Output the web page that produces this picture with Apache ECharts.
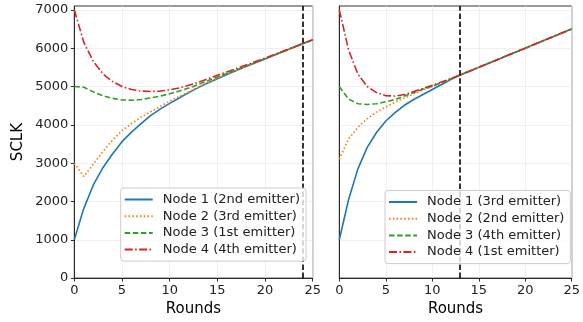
<!DOCTYPE html>
<html>
<head>
<meta charset="utf-8">
<script src="https://cdn.jsdelivr.net/npm/echarts@6/dist/echarts.min.js"></script>
<style>
  html, body { margin: 0; padding: 0; background: #fff; }
  #chart { width: 583px; height: 322px; }
</style>
</head>
<body>
<div id="chart"></div>
<script>
// rounds 0..25
const rounds = [0,1,2,3,4,5,6,7,8,9,10,11,12,13,14,15,16,17,18,19,20,21,22,23,24,25];

// left panel
const leftNames = ['Node 1 (2nd emitter)', 'Node 2 (3rd emitter)', 'Node 3 (1st emitter)', 'Node 4 (4th emitter)'];
const leftNode1 = [1000,1820,2430,2880,3240,3560,3810,4030,4240,4410,4560,4700,4840,4970,5090,5200,5310,5415,5520,5620,5720,5822,5921,6021,6120,6220];
const leftNode2 = [3000,2650,2980,3300,3600,3850,4030,4200,4340,4480,4620,4740,4860,4980,5100,5220,5325,5425,5525,5624,5723,5822,5921,6021,6120,6220];
const leftNode3 = [5000,4980,4860,4760,4690,4650,4640,4660,4700,4750,4810,4880,4960,5050,5150,5250,5340,5435,5530,5626,5724,5823,5922,6021,6120,6220];
const leftNode4 = [7000,6150,5650,5330,5130,5000,4920,4880,4870,4880,4910,4960,5030,5110,5200,5290,5380,5470,5560,5650,5740,5835,5930,6025,6120,6220];
const leftMark = 24;

// right panel
const rightNames = ['Node 1 (3rd emitter)', 'Node 2 (2nd emitter)', 'Node 3 (4th emitter)', 'Node 4 (1st emitter)'];
const rightNode1 = [1000,2050,2850,3410,3800,4100,4320,4510,4660,4790,4920,5050,5180,5300,5400,5500,5600,5700,5800,5900,6000,6100,6200,6300,6400,6500];
const rightNode2 = [3100,3630,3940,4160,4330,4460,4590,4700,4810,4910,5000,5100,5200,5300,5400,5500,5600,5700,5800,5900,6000,6100,6200,6300,6400,6500];
const rightNode3 = [5000,4670,4550,4530,4550,4600,4660,4750,4840,4925,5010,5100,5200,5300,5400,5500,5600,5700,5800,5900,6000,6100,6200,6300,6400,6500];
const rightNode4 = [7000,5950,5320,5000,4840,4760,4750,4790,4870,4950,5030,5115,5205,5300,5400,5500,5600,5700,5800,5900,6000,6100,6200,6300,6400,6500];
const rightMark = 13;

const yTop = 7100;
const colors = ['#1f77b4', '#ff7f0e', '#2ca02c', '#d62728'];
const dashes = ['solid', [1.6, 2.2], [5.5, 2.6], [8, 2.4, 1.6, 2.4]];
const font = 'DejaVu Sans';

var myChart = echarts.init(document.getElementById('chart'));

function pairs(vals) {
  return rounds.map((r, i) => [r, vals[i]]);
}

function makeSeries(names, sets, idx, mark) {
  const out = sets.map((vals, k) => ({
    name: names[k],
    type: 'line',
    xAxisIndex: idx,
    yAxisIndex: idx,
    data: pairs(vals),
    symbol: 'none',
    color: colors[k],
    lineStyle: { color: colors[k], width: 1.6, type: dashes[k] },
    z: 2 + k,
    animation: false
  }));
  // vertical marker
  out[out.length - 1].markLine = {
    silent: true,
    symbol: 'none',
    animation: false,
    label: { show: false },
    lineStyle: { color: '#000', width: 1.6, type: [5.5, 2.6] },
    data: [{ xAxis: mark }]
  };
  return out;
}

function xAx(idx) {
  return {
    type: 'value', gridIndex: idx, min: 0, max: 25, interval: 5,
    name: 'Rounds', nameLocation: 'middle', nameGap: 21,
    nameTextStyle: { fontFamily: font, fontSize: 15, color: '#000' },
    axisLine: { show: true, lineStyle: { color: '#000', width: 0.8 } },
    axisTick: { show: true, inside: false, length: 3.5, lineStyle: { color: '#000', width: 0.8 } },
    axisLabel: { fontFamily: font, fontSize: 13, color: '#222', margin: 6 },
    splitLine: { show: true, lineStyle: { color: '#ebebeb', width: 0.8 } }
  };
}

function yAx(idx, labels) {
  return {
    type: 'value', gridIndex: idx, min: 0, max: yTop, interval: 1000,
    name: labels ? 'SCLK' : '', nameLocation: 'middle', nameGap: 49,
    nameTextStyle: { fontFamily: font, fontSize: 15, color: '#000' },
    axisLine: { show: true, lineStyle: { color: '#000', width: 0.8 } },
    axisTick: { show: labels, inside: false, length: 3.5, lineStyle: { color: '#000', width: 0.8 } },
    axisLabel: { show: labels, fontFamily: font, fontSize: 13, color: '#222', margin: 6, showMaxLabel: false,
      formatter: v => String(v) },
    splitLine: { show: true, showMaxLine: false, lineStyle: { color: '#ebebeb', width: 0.8 } }
  };
}

function legend(names, left, top) {
  return {
    data: names,
    orient: 'vertical',
    left: left, top: top,
    itemWidth: 28, itemHeight: 14, itemGap: 3.7,
    padding: [5, 6, 5, 3],
    backgroundColor: 'rgba(255,255,255,0.8)',
    borderColor: '#cccccc', borderWidth: 1, borderRadius: 3,
    itemStyle: { opacity: 0 },
    textStyle: { fontFamily: font, fontSize: 13, color: '#222', padding: [0, 0, 0, 5] },
    z: 10
  };
}

myChart.setOption({
  animation: false,
  grid: [
    { left: 74.3, right: 270.3, top: 6, bottom: 42, show: true, borderColor: '#000', borderWidth: 0.8, backgroundColor: 'transparent' },
    { left: 339.3, right: 6.3, top: 6, bottom: 42, show: true, borderColor: '#000', borderWidth: 0.8, backgroundColor: 'transparent' }
  ],
  xAxis: [xAx(0), xAx(1)],
  yAxis: [yAx(0, true), yAx(1, false)],
  legend: [legend(leftNames, 120.7, 188), legend(rightNames, 385, 190.5)],
  series: makeSeries(leftNames, [leftNode1, leftNode2, leftNode3, leftNode4], 0, leftMark)
    .concat(makeSeries(rightNames, [rightNode1, rightNode2, rightNode3, rightNode4], 1, rightMark))
});
</script>
</body>
</html>
